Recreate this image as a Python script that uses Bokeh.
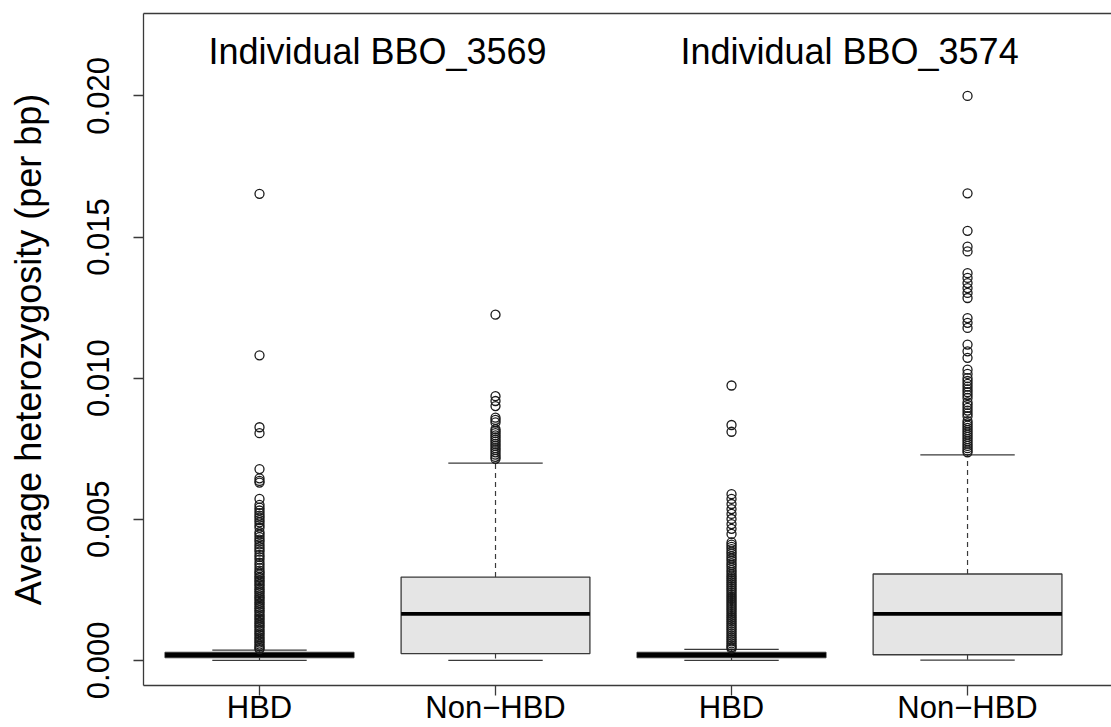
from bokeh.plotting import figure
from bokeh.models import Range1d, FixedTicker, LinearAxis, NumeralTickFormatter
from bokeh.core.properties import value
from bokeh.embed import file_html
from bokeh.resources import INLINE

# ---------------- data ----------------
groups = ["HBD", "Non\u2212HBD", "HBD", "Non\u2212HBD"]
individuals = ["Individual BBO_3569", "Individual BBO_3574"]
positions = [1, 2, 3, 4]
y_ticks = [0.0, 0.005, 0.010, 0.015, 0.020]
y_label = "Average heterozygosity (per bp)"

whisker_low = [0.0, 0.0, 0.0, 0.00001]
q1 = [0.00010, 0.00024, 0.00010, 0.00020]
median = [0.00019, 0.00165, 0.00019, 0.00165]
q3 = [0.00028, 0.00295, 0.00028, 0.00306]
whisker_high = [0.00036, 0.00699, 0.00039, 0.00728]

out_hbd_3569 = [0.01653, 0.01081, 0.00826, 0.00805, 0.00678, 0.00645, 0.00636, 0.00630,
                0.00572, 0.00551, 0.00541, 0.00531, 0.00522, 0.00513, 0.00506, 0.00497,
                0.00489, 0.00479, 0.00470, 0.00454, 0.00446, 0.00437, 0.00428, 0.00421,
                0.00411, 0.00402, 0.00393, 0.00385, 0.00374, 0.00366, 0.00357, 0.00346,
                0.00337, 0.00327, 0.00318, 0.00311, 0.00305, 0.00297, 0.00292, 0.00284,
                0.00279, 0.00271, 0.00265, 0.00257, 0.00251, 0.00244, 0.00238, 0.00230,
                0.00224, 0.00218, 0.00211, 0.00204, 0.00198, 0.00190, 0.00184, 0.00177,
                0.00171, 0.00163, 0.00157, 0.00150, 0.00144, 0.00136, 0.00130, 0.00123,
                0.00117, 0.00109, 0.00103, 0.00096, 0.00090, 0.00082, 0.00076, 0.00069,
                0.00063, 0.00056, 0.00050, 0.00044, 0.00040]
out_non_3569 = [0.01225, 0.00936, 0.00919, 0.00901, 0.00860, 0.00852, 0.00843, 0.00819,
                0.00812, 0.00805, 0.00797, 0.00790, 0.00782, 0.00775, 0.00767, 0.00760,
                0.00752, 0.00745, 0.00737, 0.00729, 0.00721, 0.00714]
out_hbd_3574 = [0.00974, 0.00834, 0.00810, 0.00589, 0.00572, 0.00554, 0.00536, 0.00519,
                0.00501, 0.00483, 0.00466, 0.00448, 0.00418, 0.00410, 0.00402, 0.00394,
                0.00385, 0.00378, 0.00369, 0.00361, 0.00353, 0.00344, 0.00337, 0.00329,
                0.00320, 0.00313, 0.00305, 0.00298, 0.00291, 0.00284, 0.00277, 0.00270,
                0.00263, 0.00256, 0.00249, 0.00242, 0.00235, 0.00228, 0.00221, 0.00214,
                0.00207, 0.00200, 0.00193, 0.00186, 0.00179, 0.00172, 0.00165, 0.00158,
                0.00151, 0.00144, 0.00137, 0.00130, 0.00123, 0.00116, 0.00109, 0.00102,
                0.00095, 0.00088, 0.00081, 0.00074, 0.00067, 0.00060, 0.00053, 0.00047,
                0.00042]
out_non_3574 = [0.02000, 0.01655, 0.01522, 0.01466, 0.01449, 0.01372, 0.01355, 0.01337,
                0.01319, 0.01302, 0.01284, 0.01213, 0.01196, 0.01178, 0.01119, 0.01095,
                0.01072, 0.01030, 0.01015, 0.01000, 0.00990, 0.00980, 0.00970, 0.00960,
                0.00950, 0.00940, 0.00930, 0.00914, 0.00905, 0.00895, 0.00885, 0.00875,
                0.00865, 0.00848, 0.00840, 0.00832, 0.00824, 0.00816, 0.00808, 0.00800,
                0.00792, 0.00784, 0.00776, 0.00768, 0.00760, 0.00752, 0.00744, 0.00737]
outliers = [out_hbd_3569, out_non_3569, out_hbd_3574, out_non_3574]

# ---------------- style ----------------
FONT = "Liberation Sans"
LINE = "#3a3a3a"
BOX_W = 0.8
CAP_W = 0.4

p = figure(width=1111, height=727,
           x_range=Range1d(0.5085, 4.61), y_range=Range1d(-0.00089, 0.02292),
           output_backend="svg", toolbar_location=None,
           min_border_left=143, min_border_right=0, min_border_top=13, min_border_bottom=40)
p.outline_line_color = None
p.xgrid.visible = False
p.ygrid.visible = False
p.background_fill_color = "white"
p.border_fill_color = "white"

# boxes
p.vbar(x=positions, width=BOX_W, bottom=q1, top=q3,
       fill_color="#E5E5E5", line_color=LINE, line_width=1.3)
# medians
p.segment(x0=[x - BOX_W / 2 for x in positions], x1=[x + BOX_W / 2 for x in positions],
          y0=median, y1=median, line_color="black", line_width=3.8)
# whiskers
p.segment(x0=positions, x1=positions, y0=q3, y1=whisker_high,
          line_color=LINE, line_width=1.2, line_dash="5 4")
p.segment(x0=positions, x1=positions, y0=q1, y1=whisker_low,
          line_color=LINE, line_width=1.2, line_dash="5 4")
# caps
for vals in (whisker_high, whisker_low):
    p.segment(x0=[x - CAP_W / 2 for x in positions], x1=[x + CAP_W / 2 for x in positions],
              y0=vals, y1=vals, line_color=LINE, line_width=1.3)

# outliers
ox, oy = [], []
for x, vals in zip(positions, outliers):
    ox += [x] * len(vals)
    oy += vals
p.scatter(ox, oy, marker="circle", size=9, fill_color=None,
          line_color="#1a1a1a", line_width=1.3)

# individual titles
tx = [(positions[0] + positions[1]) / 2, (positions[2] + positions[3]) / 2]
p.text(x=tx, y=[0.02157, 0.02157], text=individuals,
       text_font=value(FONT), text_font_size="36px", text_color="black",
       text_align="center", text_baseline="alphabetic")

# axes
xa = p.xaxis[0]
xa.ticker = FixedTicker(ticks=positions)
xa.major_label_overrides = {pos: g for pos, g in zip(positions, groups)}
xa.minor_tick_line_color = None
xa.major_tick_out = 10
xa.major_tick_in = 0
xa.major_label_standoff = -6
xa.major_label_text_font = FONT
xa.major_label_text_font_size = "31px"
xa.major_label_text_color = "black"
xa.axis_line_color = LINE
xa.axis_line_width = 1.3
xa.major_tick_line_color = LINE
xa.major_tick_line_width = 1.3

ya = p.yaxis[0]
ya.ticker = FixedTicker(ticks=y_ticks)
ya.formatter = NumeralTickFormatter(format="0.000")
ya.minor_tick_line_color = None
ya.major_tick_out = 10
ya.major_tick_in = 0
ya.major_label_orientation = "vertical"
ya.major_label_standoff = 24
ya.major_label_text_font = FONT
ya.major_label_text_font_size = "31px"
ya.major_label_text_color = "black"
ya.axis_label = y_label
ya.axis_label_text_font = FONT
ya.axis_label_text_font_size = "36px"
ya.axis_label_text_font_style = "normal"
ya.axis_label_text_color = "black"
ya.axis_label_standoff = 36
ya.axis_line_color = LINE
ya.axis_line_width = 1.3
ya.major_tick_line_color = LINE
ya.major_tick_line_width = 1.3

top = LinearAxis(ticker=FixedTicker(ticks=[]), major_label_text_font_size="0px",
                 major_tick_out=0, major_tick_in=0, minor_tick_out=0, minor_tick_in=0,
                 major_label_standoff=0, axis_line_color=LINE, axis_line_width=1.3)
p.add_layout(top, "above")

open("out.html", "w").write(file_html(p, INLINE))
